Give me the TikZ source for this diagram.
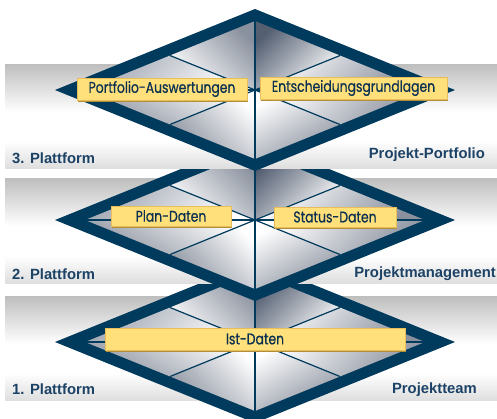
\documentclass[tikz,border=0pt]{standalone}
\usepackage{fontspec}
\setmainfont{Liberation Sans}
\newfontfamily\labfont[FakeStretch=0.8,FakeBold=0.6]{Poppins}
\usetikzlibrary{calc}

\definecolor{navy}{RGB}{0,58,92}
\definecolor{textblue}{RGB}{10,48,82}
\definecolor{platblue}{RGB}{28,66,102}
\definecolor{labfill}{RGB}{255,224,122}
\definecolor{labedge}{RGB}{232,190,90}
\definecolor{labshadow}{RGB}{178,142,58}
\definecolor{bandtop}{RGB}{118,118,118}
\definecolor{bandbot}{RGB}{128,128,128}
\definecolor{bandmidA}{RGB}{205,205,205}
\definecolor{bandmidB}{RGB}{190,190,190}
\definecolor{fdark}{RGB}{84,95,114}
\definecolor{fgray}{RGB}{138,145,158}
\definecolor{flight}{RGB}{160,166,178}

\pgfdeclareverticalshading{bandshade}{100bp}{color(0bp)=(bandbot); color(18bp)=(bandmidA); color(38bp)=(white); color(52bp)=(white); color(75bp)=(bandmidB); color(100bp)=(bandtop)}

\tikzset{
  thinline/.style={navy, line width=1.2pt},
  lab/.style={rectangle, fill=labfill, draw=labedge, line width=0.8pt, inner sep=0pt,
    text=textblue, font=\labfont\fontsize{15.5}{16}\selectfont,
    preaction={fill=labshadow, transform canvas={shift={(1.3pt,-1.6pt)}}}},
  plat/.style={inner sep=0pt, text=platblue, font=\bfseries\fontsize{14.8}{15}\selectfont},
  bandbox/.style={shading=bandshade}
}

\newcommand{\drawlayer}[2]{%
  \coordinate (#1C) at (255,#2);
  \coordinate (#1oL) at (55,#2);
  \coordinate (#1oT) at (255,#2-81);
  \coordinate (#1oR) at (455,#2);
  \coordinate (#1oB) at (255,#2+81);
  \coordinate (#1L) at (85,#2);
  \coordinate (#1T) at (255,#2-69);
  \coordinate (#1R) at (425,#2);
  \coordinate (#1B) at (255,#2+69);
  \coordinate (#1ul) at (170,#2-34.5);
  \coordinate (#1ur) at (340,#2-34.5);
  \coordinate (#1ll) at (170,#2+34.5);
  \coordinate (#1lr) at (340,#2+34.5);
  \fill[navy] (#1oL) -- (#1oT) -- (#1oR) -- (#1oB) -- cycle;
  \shade[top color=fgray, bottom color=white, shading angle=-45] (#1T) -- (#1ul) -- (#1C) -- cycle;
  \shade[top color=flight, bottom color=white, shading angle=45] (#1ul) -- (#1L) -- (#1C) -- cycle;
  \shade[top color=white, bottom color=fgray, shading angle=-30] (#1L) -- (#1ll) -- (#1C) -- cycle;
  \shade[top color=white, bottom color=fgray, shading angle=-45] (#1ll) -- (#1B) -- (#1C) -- cycle;
  \shade[top color=fdark, bottom color=white, shading angle=45] (#1T) -- (#1ur) -- (#1C) -- cycle;
  \shade[top color=white, bottom color=fgray, shading angle=45] (#1ur) -- (#1R) -- (#1C) -- cycle;
  \shade[top color=white, bottom color=fgray, shading angle=45] (#1R) -- (#1lr) -- (#1C) -- cycle;
  \shade[top color=white, bottom color=fgray, shading angle=30] (#1lr) -- (#1B) -- (#1C) -- cycle;
  \draw[thinline] (#1T) -- (#1B);
  \draw[thinline] (#1L) -- (#1R);
  \draw[thinline] (#1ul) -- (#1lr);
  \draw[thinline] (#1ur) -- (#1ll);
}

\begin{document}
\begin{tikzpicture}[x=1pt, y=-1pt]
\useasboundingbox (0,0) rectangle (497,418);
\clip (0,0) rectangle (497,418);
\fill[white] (0,0) rectangle (497,418);

% layer 1
\shade[bandbox] (5,296) rectangle (497,400);
\drawlayer{a}{342}
% layer 2
\shade[bandbox] (5,178) rectangle (497,283);
\drawlayer{b}{220}
% layer 3
\shade[bandbox] (5,64) rectangle (497,168);
\drawlayer{c}{90}

% labels
\node[lab, minimum width=170pt, minimum height=22pt] (portfolio) at (162,89) {Portfolio-Auswertungen};
\node[lab, minimum width=187pt, minimum height=22pt] (entscheid) at (353.5,88) {Entscheidungsgrundlagen};
\node[lab, minimum width=120pt, minimum height=20pt] (plan) at (171,216) {Plan-Daten};
\node[lab, minimum width=122pt, minimum height=20pt] (status) at (335,217) {Status-Daten};
\node[lab, minimum width=300pt, minimum height=22pt] (ist) at (255,339) {Ist-Daten};

% platform texts
\node[plat, anchor=base west] (p3) at (12,163) {3. Plattform};
\node[plat, anchor=base west] (p2) at (12,279) {2. Plattform};
\node[plat, anchor=base west] (p1) at (12,394) {1. Plattform};
\node[plat, anchor=base east] (r3) at (485,158) {Projekt-Portfolio};
\node[plat, anchor=base east] (r2) at (496,277) {Projektmanagement};
\node[plat, anchor=base east] (r1) at (477,393) {Projektteam};
\end{tikzpicture}
\end{document}
